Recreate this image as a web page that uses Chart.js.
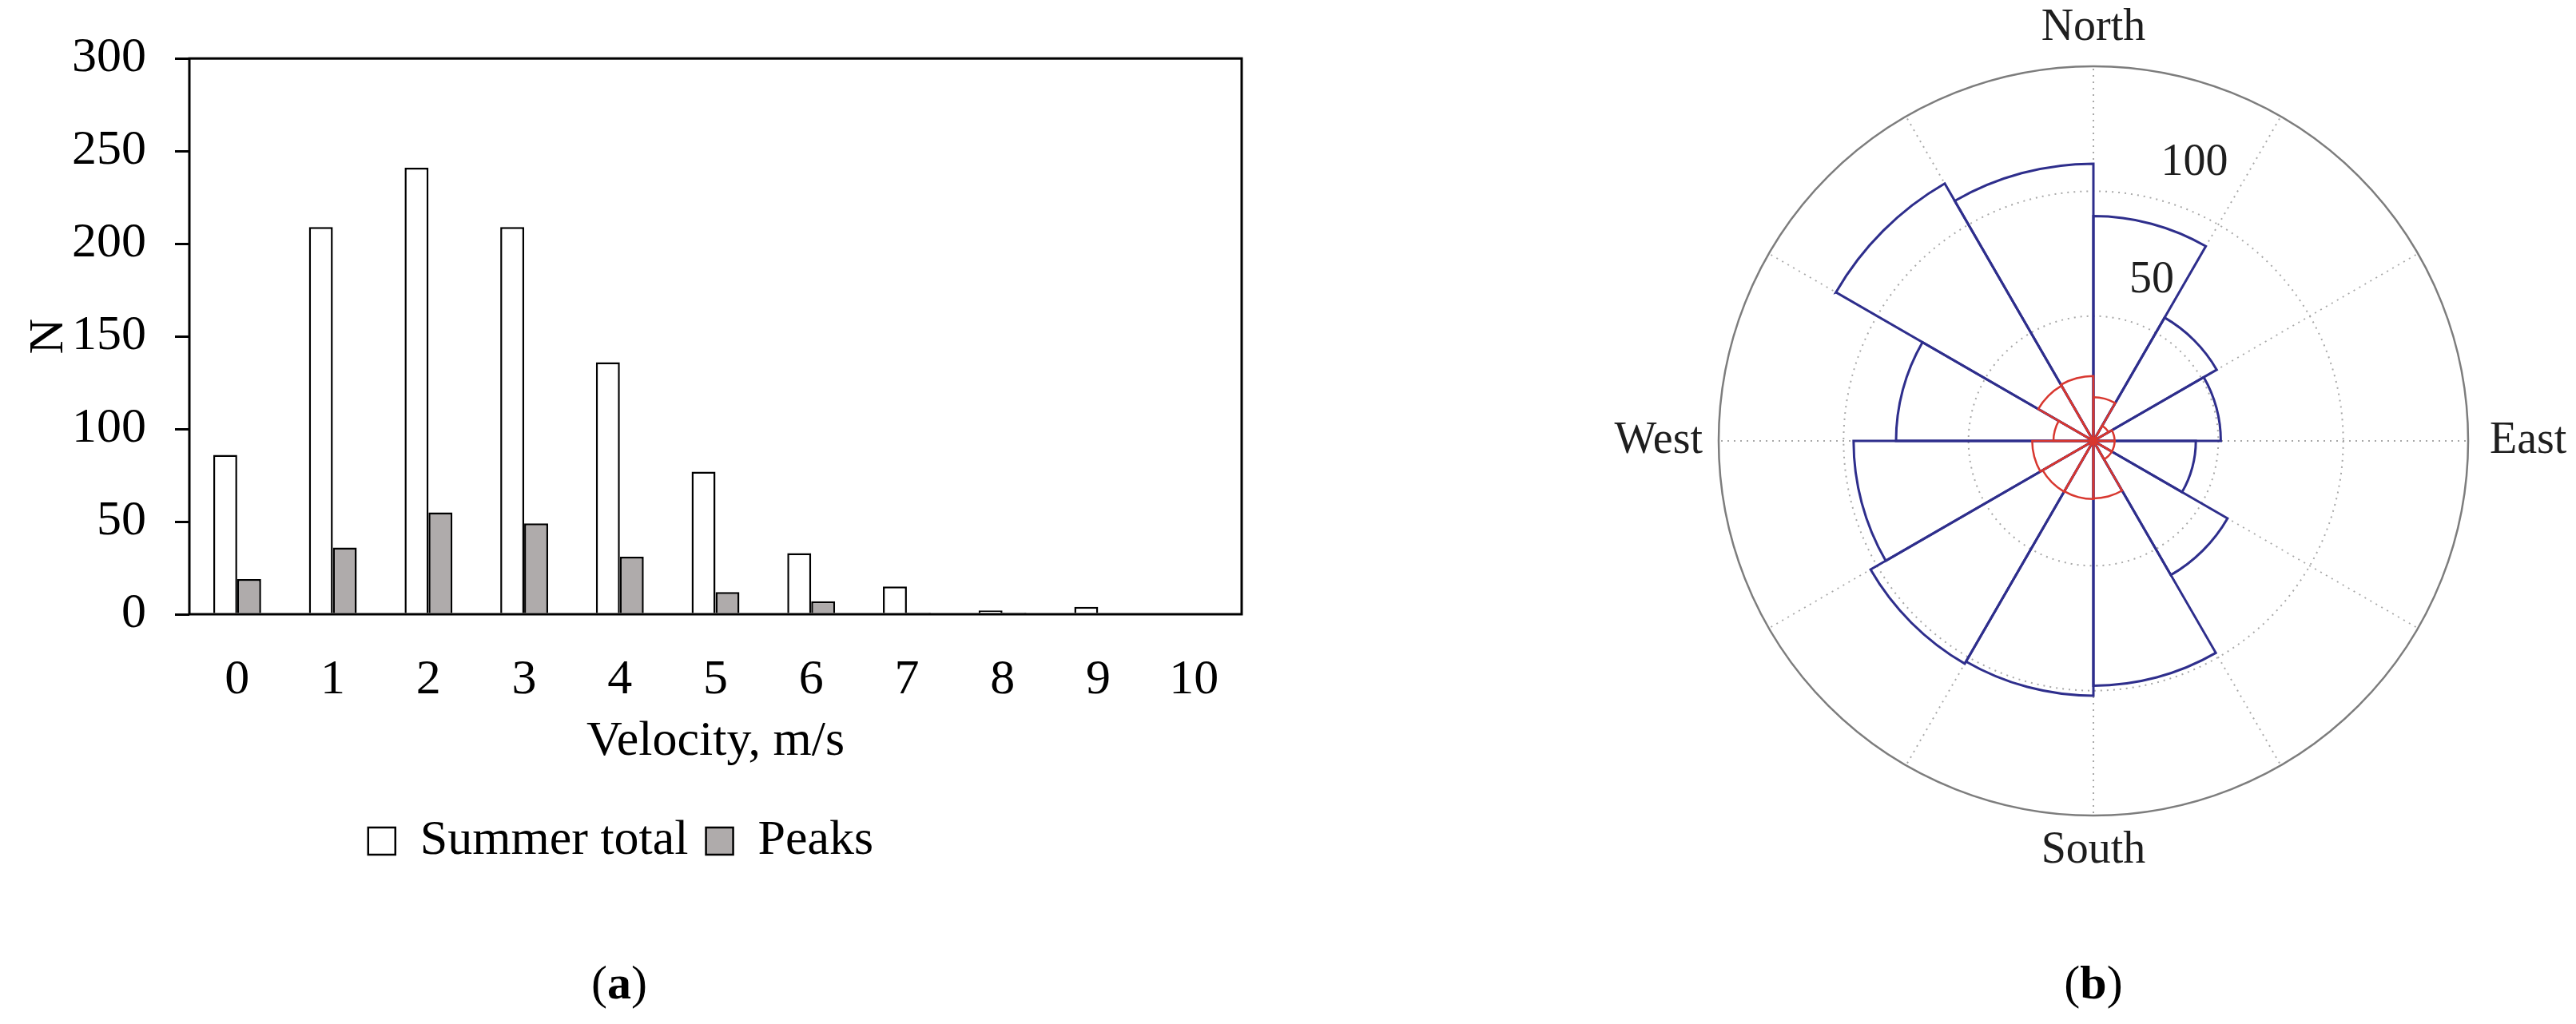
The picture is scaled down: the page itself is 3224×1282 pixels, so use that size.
<!DOCTYPE html>
<html>
<head>
<meta charset="utf-8">
<script src="https://cdn.jsdelivr.net/npm/chart.js@4.4.1/dist/chart.umd.min.js"></script>
<style>
  html, body { margin: 0; padding: 0; background: #fff; }
  body { width: 3224px; height: 1282px; position: relative; overflow: hidden; font-family: 'Liberation Serif', 'Times New Roman', serif; }
  #barChart { position: absolute; left: 0; top: 0; }
  #roseChart { position: absolute; left: 2000px; top: 0; }
  .caption { position: absolute; top: 1196px; width: 200px; font-size: 60px; line-height: 68px; text-align: center; color: #000; }
</style>
</head>
<body>
<canvas id="barChart" width="1571" height="1130"></canvas>
<canvas id="roseChart" width="1224" height="1282"></canvas>
<div class="caption" style="left:675px">(<b>a</b>)</div>
<div class="caption" style="left:2520px">(<b>b</b>)</div>
<script>
// (a) velocity histogram
const velocities = ['0', '1', '2', '3', '4', '5', '6', '7', '8', '9', '10'];
const summerTotal = [86, 209, 241, 209, 136, 77, 33, 15, 2, 4, 0];
const peaks = [19, 36, 55, 49, 31, 12, 7, 1, 1, 0, 0];
const yMax = 300;
const yStep = 50;

// (b) wind rose, 30 degree sectors clockwise from north
const sectors = ['0-30', '30-60', '60-90', '90-120', '120-150', '150-180',
                 '180-210', '210-240', '240-270', '270-300', '300-330', '330-360'];
const roseTotal = [90, 57, 51, 41, 62, 98, 102, 103, 96, 79, 119, 111];
const rosePeaks = [17.5, 7, 8.5, 8.5, 8.5, 23, 23.3, 23.5, 24.5, 16, 25.5, 26];
const compassLabels = ['North', 'East', 'South', 'West'];
const compassSectors = [0, 3, 6, 9];
const ringLabels = [50, 100];
const rMax = 150;

Chart.defaults.font.family = "'Liberation Serif', 'Times New Roman', serif";
Chart.defaults.color = '#000';

const plotFrame = {
  id: 'plotFrame',
  afterDatasetsDraw(chart) {
    const { ctx, chartArea } = chart;
    ctx.save();
    ctx.strokeStyle = '#000';
    ctx.lineWidth = 3;
    ctx.strokeRect(chartArea.left, chartArea.top, chartArea.width, chartArea.height);
    ctx.restore();
  }
};

new Chart(document.getElementById('barChart'), {
  type: 'bar',
  data: {
    labels: velocities,
    datasets: [
      { label: 'Summer total', data: summerTotal, backgroundColor: '#ffffff', borderColor: '#000', borderWidth: 2.5 },
      { label: 'Peaks', data: peaks, backgroundColor: '#afabab', borderColor: '#000', borderWidth: 2.5 }
    ]
  },
  options: {
    responsive: false,
    animation: false,
    events: [],
    layout: { padding: { left: 0, right: 17, top: 49, bottom: 36 } },
    datasets: { bar: { barPercentage: 1, categoryPercentage: 0.5 } },
    plugins: {
      tooltip: { enabled: false },
      legend: {
        position: 'bottom',
        labels: { font: { size: 62 }, boxWidth: 34, boxHeight: 34, padding: 22, color: '#000' }
      }
    },
    scales: {
      x: {
        grid: { display: false },
        border: { display: false },
        ticks: { font: { size: 62 }, padding: 38, maxRotation: 0 },
        title: { display: true, text: 'Velocity, m/s', font: { size: 62 }, padding: { top: 0, bottom: 34 } },
        afterFit(scale) { scale.height = 231; }
      },
      y: {
        min: 0,
        max: yMax,
        ticks: { stepSize: yStep, font: { size: 62 }, padding: 36 },
        grid: { drawOnChartArea: false, drawTicks: true, tickLength: 18, color: '#000', lineWidth: 3 },
        border: { display: false },
        title: { display: true, text: 'N', font: { size: 62 }, padding: { top: 25, bottom: 0 } },
        afterFit(scale) { scale.width = 237; }
      }
    }
  },
  plugins: [plotFrame]
});

const roseText = {
  id: 'roseText',
  afterDraw(chart) {
    const r = chart.scales.r;
    const ctx = chart.ctx;
    const gaps = [48, 27, 44, 20];
    const aligns = ['center', 'left', 'center', 'right'];
    ctx.save();
    ctx.fillStyle = '#1e1e1e';
    ctx.font = "56px 'Liberation Serif'";
    ctx.textBaseline = 'middle';
    compassLabels.forEach((text, k) => {
      const p = r.getPointPosition(compassSectors[k], r.drawingArea + gaps[k]);
      ctx.textAlign = aligns[k];
      ctx.fillText(text, p.x, p.y);
    });
    const a = -Math.PI / 2 + 20 * Math.PI / 180;
    ctx.textAlign = 'center';
    ringLabels.forEach(v => {
      const d = r.getDistanceFromCenterForValue(v) + 57;
      ctx.fillText(String(v), r.xCenter + Math.cos(a) * d, r.yCenter + Math.sin(a) * d);
    });
    ctx.restore();
  }
};

new Chart(document.getElementById('roseChart'), {
  type: 'polarArea',
  data: {
    labels: sectors,
    datasets: [
      { label: 'All', data: roseTotal, backgroundColor: 'rgba(0,0,0,0)', borderColor: '#2e2e8c',
        borderWidth: 3, borderJoinStyle: 'miter', order: 1 },
      { label: 'Peaks', data: rosePeaks, backgroundColor: 'rgba(0,0,0,0)', borderColor: '#d8372f',
        borderWidth: 2.5, borderJoinStyle: 'miter', order: 0 }
    ]
  },
  options: {
    responsive: false,
    animation: false,
    events: [],
    layout: { padding: { left: 151, right: 135, top: 83, bottom: 261 } },
    plugins: { legend: { display: false }, tooltip: { enabled: false } },
    scales: {
      r: {
        min: 0,
        max: rMax,
        startAngle: 0,
        ticks: { display: false, stepSize: 50 },
        pointLabels: { display: false },
        angleLines: { display: true, color: '#a8a8a8', lineWidth: 2, borderDash: [2, 6] },
        grid: {
          circular: true,
          color: ctx => ctx.tick.value === rMax ? '#7d7d7d' : '#a8a8a8',
          lineWidth: ctx => ctx.tick.value === rMax ? 2.5 : 2
        },
        border: { dash: ctx => ctx.tick && ctx.tick.value === rMax ? [] : [2, 6] }
      }
    }
  },
  plugins: [roseText]
});
</script>
</body>
</html>
